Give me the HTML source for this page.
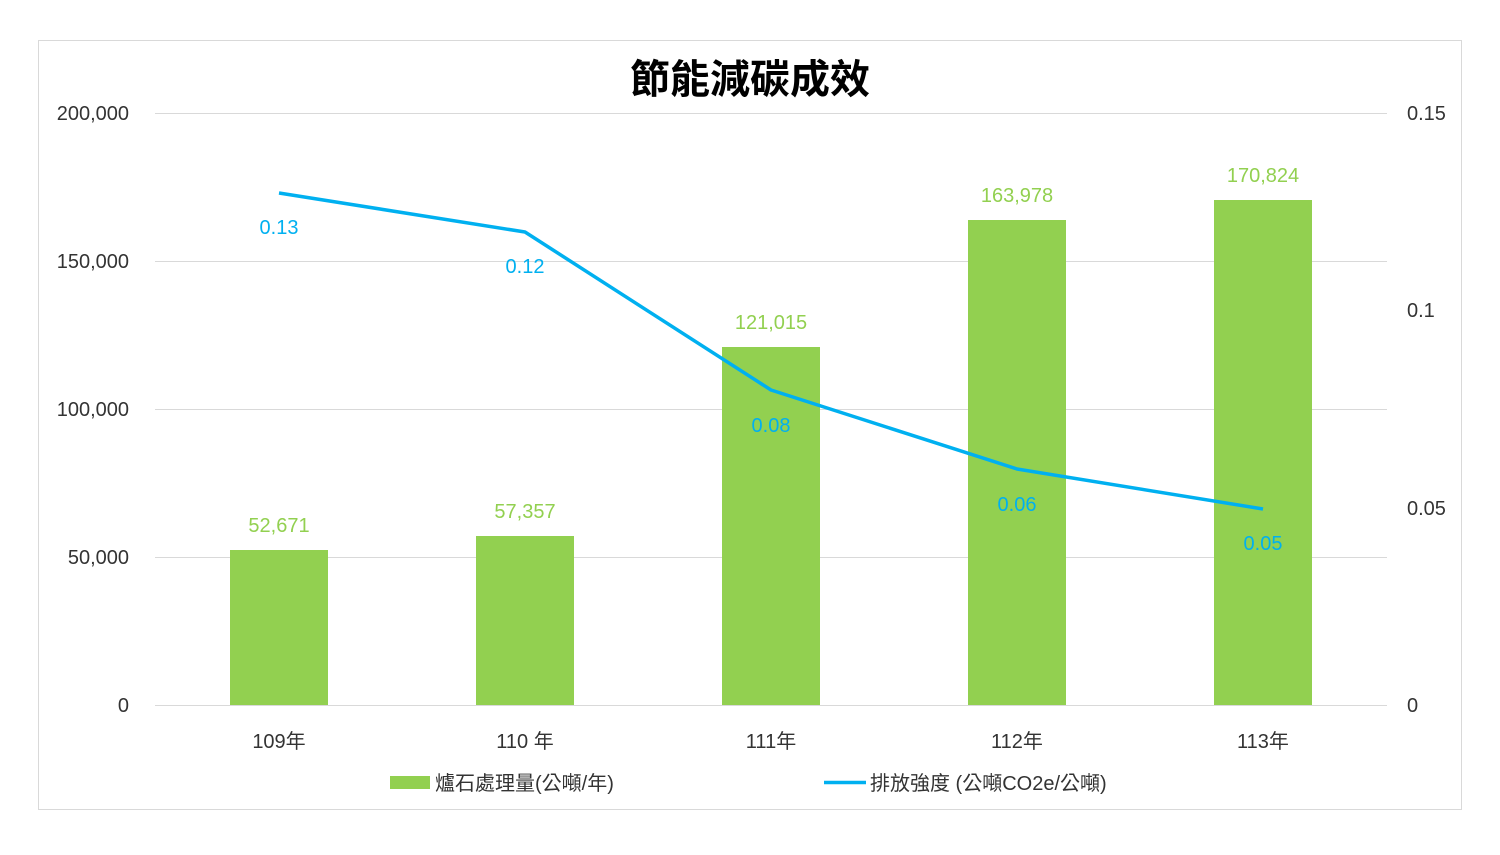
<!DOCTYPE html>
<html><head><meta charset="utf-8"><style>
body{margin:0;background:#fff;}
svg text{font-family:"Liberation Sans","Noto Sans CJK TC",sans-serif;}
</style></head><body>
<svg width="1500" height="850" xmlns="http://www.w3.org/2000/svg">
<rect x="0" y="0" width="1500" height="850" fill="#fff"/>
<rect x="38.5" y="40.5" width="1423" height="769" fill="#fff" stroke="#d9d9d9" stroke-width="1"/>
<text x="750" y="93" font-size="40" font-weight="bold" text-anchor="middle" fill="#000">節能減碳成效</text>
<g stroke="#d9d9d9" stroke-width="1">
<line x1="155" x2="1387" y1="113.5" y2="113.5"/>
<line x1="155" x2="1387" y1="261.5" y2="261.5"/>
<line x1="155" x2="1387" y1="409.5" y2="409.5"/>
<line x1="155" x2="1387" y1="557.5" y2="557.5"/>
<line x1="155" x2="1387" y1="705.5" y2="705.5"/>
</g>
<g font-size="20" fill="#333" text-anchor="end">
<text x="129" y="120">200,000</text>
<text x="129" y="268">150,000</text>
<text x="129" y="416">100,000</text>
<text x="129" y="564">50,000</text>
<text x="129" y="712">0</text>
</g>
<g font-size="20" fill="#333" text-anchor="start">
<text x="1407" y="120">0.15</text>
<text x="1407" y="317">0.1</text>
<text x="1407" y="515">0.05</text>
<text x="1407" y="712">0</text>
</g>
<g fill="#92d050">
<rect x="230" y="550" width="98" height="155"/>
<rect x="476" y="536" width="98" height="169"/>
<rect x="722" y="347" width="98" height="358"/>
<rect x="968" y="220" width="98" height="485"/>
<rect x="1214" y="200" width="98" height="505"/>
</g>
<g font-size="20" fill="#92d050" text-anchor="middle">
<text x="279" y="532">52,671</text>
<text x="525" y="518">57,357</text>
<text x="771" y="329">121,015</text>
<text x="1017" y="202">163,978</text>
<text x="1263" y="182">170,824</text>
</g>
<polyline points="279,193 525,232 771,390 1017,469 1263,509" fill="none" stroke="#00b0f0" stroke-width="3.5" stroke-linejoin="round"/>
<g font-size="20" fill="#00b0f0" text-anchor="middle">
<text x="279" y="234">0.13</text>
<text x="525" y="273">0.12</text>
<text x="771" y="432">0.08</text>
<text x="1017" y="511">0.06</text>
<text x="1263" y="550">0.05</text>
</g>
<g font-size="20" fill="#333" text-anchor="middle">
<text x="279" y="748">109年</text>
<text x="525" y="748">110 年</text>
<text x="771" y="748">111年</text>
<text x="1017" y="748">112年</text>
<text x="1263" y="748">113年</text>
</g>
<rect x="390" y="776" width="40" height="13" fill="#92d050"/>
<text x="435" y="790" font-size="20" fill="#333">爐石處理量(公噸/年)</text>
<line x1="824" x2="866" y1="782.5" y2="782.5" stroke="#00b0f0" stroke-width="3.5"/>
<text x="870" y="790" font-size="20" fill="#333">排放強度 (公噸CO2e/公噸)</text>
</svg>
</body></html>
